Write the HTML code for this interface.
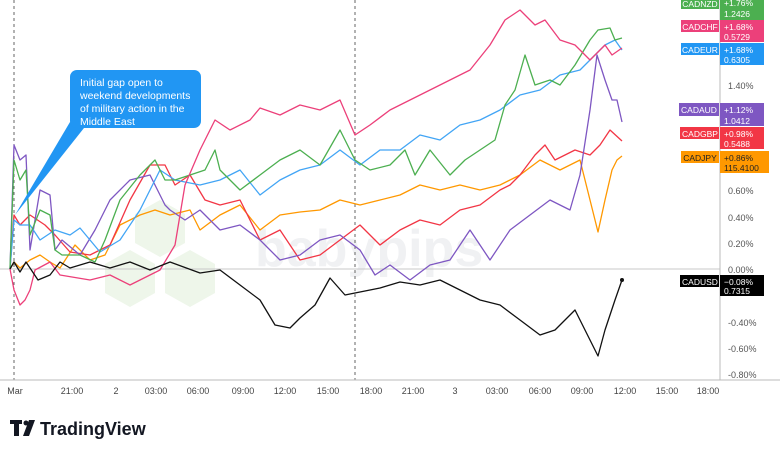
<!DOCTYPE html>
<html><head><style>
body{margin:0;background:#fff;width:780px;height:453px;overflow:hidden;font-family:"Liberation Sans",sans-serif}
</style></head><body>
<svg width="780" height="453" viewBox="0 0 780 453" xmlns="http://www.w3.org/2000/svg" font-family="Liberation Sans, sans-serif">
<rect width="780" height="453" fill="#fff"/>
<g fill="#eef6ea"><polygon points="160,200 185,214 185,243 160,257 135,243 135,214"/><polygon points="130,250 155,264 155,293 130,307 105,293 105,264"/><polygon points="190,250 215,264 215,293 190,307 165,293 165,264"/></g>
<text x="255" y="266" font-size="52" font-weight="bold" fill="#f0f1f3">babypips</text>
<line x1="0" y1="269" x2="720" y2="269" stroke="#c8c8c8" stroke-width="1"/>
<line x1="14" y1="0" x2="14" y2="380" stroke="#666" stroke-dasharray="3,3"/>
<line x1="355" y1="0" x2="355" y2="380" stroke="#666" stroke-dasharray="3,3"/>
<line x1="720" y1="0" x2="720" y2="380" stroke="#bbb"/>
<line x1="0" y1="380" x2="780" y2="380" stroke="#bbb"/>
<g fill="none" stroke-width="1.3" stroke-linejoin="round">
<polyline stroke="#ff9800" points="10,269 14,262 20,268 30,260 40,255 50,262 60,268 75,245 90,260 105,255 120,225 140,215 155,210 170,215 190,210 200,230 220,215 240,205 260,230 280,215 300,212 320,210 340,200 360,205 380,200 400,195 420,185 440,190 460,185 480,190 500,185 520,175 540,160 560,170 580,160 590,200 598,232 605,200 612,170 617,160 622,156"/>
<polyline stroke="#f23645" points="10,269 14,215 20,225 30,215 45,225 55,235 70,252 90,255 110,245 130,200 150,165 165,165 175,185 190,175 205,200 220,205 240,200 260,240 280,230 300,260 320,255 340,240 360,225 380,245 400,230 420,220 440,225 460,210 480,205 500,190 510,185 520,175 535,155 545,145 555,160 575,150 590,155 600,145 610,130 622,141"/>
<polyline stroke="#7e57c2" points="10,269 14,145 20,160 26,155 30,250 40,190 50,195 55,250 62,240 80,255 95,230 110,200 130,180 150,175 165,205 170,210 185,220 200,210 220,230 240,225 260,240 280,260 300,255 320,240 340,235 360,250 375,275 390,265 410,280 430,265 450,260 470,230 490,260 510,230 530,215 550,200 570,210 580,175 590,110 597,55 605,80 612,100 617,100 622,122"/>
<polyline stroke="#42a5f5" points="10,269 14,220 20,225 30,225 40,240 55,230 70,235 80,228 100,252 120,240 140,210 160,170 175,180 200,185 220,180 240,170 260,195 280,180 300,170 320,165 340,150 360,165 380,150 400,150 420,135 440,140 460,125 480,120 500,110 520,95 540,90 560,75 580,70 595,55 605,45 615,40 622,50"/>
<polyline stroke="#4caf50" points="10,269 14,160 20,180 26,170 30,235 40,210 50,215 55,250 62,255 80,255 95,262 105,240 120,200 140,175 155,160 165,180 175,180 190,175 205,170 215,150 220,170 240,190 260,175 280,160 300,150 320,165 340,130 355,160 370,170 390,165 405,150 415,175 430,150 450,175 465,160 480,150 495,140 505,105 515,90 525,55 535,85 550,80 560,85 575,65 590,40 598,30 610,28 615,40 622,38"/>
<polyline stroke="#ec407a" points="10,269 14,290 20,305 25,300 30,290 35,270 50,262 60,275 90,280 110,275 130,285 160,270 175,245 185,185 200,150 215,120 230,130 250,120 260,108 280,115 300,105 320,110 340,100 355,135 370,125 390,110 410,100 430,90 450,80 470,70 490,45 505,20 520,10 535,25 545,20 560,40 575,45 590,60 605,45 612,55 622,48"/>
<polyline stroke="#111" points="10,269 14,262 20,272 26,262 38,280 50,275 60,262 70,268 90,262 110,268 130,262 150,270 170,262 200,273 220,270 240,285 260,300 275,325 290,328 300,318 315,305 330,278 345,295 360,292 380,288 400,282 420,285 440,280 460,290 480,300 500,305 520,320 540,335 555,330 575,310 585,330 598,356 605,330 615,300 622,280"/>
</g>
<circle cx="622" cy="280" r="2" fill="#111"/>
<polygon points="70,122 84,128 15,215" fill="#2196f3"/>
<rect x="70" y="70" width="131" height="58" rx="7" fill="#2196f3"/>
<g fill="#fff" font-size="10.5"><text x="80" y="86">Initial gap open to</text><text x="80" y="99">weekend developments</text><text x="80" y="112">of military action in the</text><text x="80" y="125">Middle East</text></g>
<g font-size="9" fill="#555">
<text x="728" y="89">1.40%</text><text x="728" y="194">0.60%</text><text x="728" y="221">0.40%</text><text x="728" y="247">0.20%</text><text x="728" y="273">0.00%</text><text x="728" y="326">-0.40%</text><text x="728" y="352">-0.60%</text><text x="728" y="378">-0.80%</text>
</g>
<g font-size="9" fill="#444" text-anchor="middle">
<text x="15" y="394">Mar</text><text x="72" y="394">21:00</text><text x="116" y="394">2</text><text x="156" y="394">03:00</text><text x="198" y="394">06:00</text><text x="243" y="394">09:00</text><text x="285" y="394">12:00</text><text x="328" y="394">15:00</text><text x="371" y="394">18:00</text><text x="413" y="394">21:00</text><text x="455" y="394">3</text><text x="497" y="394">03:00</text><text x="540" y="394">06:00</text><text x="582" y="394">09:00</text><text x="625" y="394">12:00</text><text x="667" y="394">15:00</text><text x="708" y="394">18:00</text>
</g>
<g font-size="8.5">
<rect x="681" y="-3" width="38" height="12" fill="#4caf50"/><rect x="720" y="-3" width="44" height="23" fill="#4caf50"/>
<text x="700" y="7" fill="#fff" text-anchor="middle">CADNZD</text><text x="724" y="6" fill="#fff">+1.76%</text><text x="724" y="17" fill="#fff">1.2426</text>
<rect x="681" y="20" width="38" height="12" fill="#ec407a"/><rect x="720" y="20" width="44" height="22" fill="#ec407a"/>
<text x="700" y="30" fill="#fff" text-anchor="middle">CADCHF</text><text x="724" y="30" fill="#fff">+1.68%</text><text x="724" y="40" fill="#fff">0.5729</text>
<rect x="681" y="43" width="38" height="12" fill="#2196f3"/><rect x="720" y="43" width="44" height="22" fill="#2196f3"/>
<text x="700" y="53" fill="#fff" text-anchor="middle">CADEUR</text><text x="724" y="53" fill="#fff">+1.68%</text><text x="724" y="63" fill="#fff">0.6305</text>
<rect x="679" y="103" width="40" height="13" fill="#7e57c2"/><rect x="720" y="103" width="44" height="23" fill="#7e57c2"/>
<text x="699" y="113" fill="#fff" text-anchor="middle">CADAUD</text><text x="724" y="113" fill="#fff">+1.12%</text><text x="724" y="124" fill="#fff">1.0412</text>
<rect x="680" y="127" width="39" height="12" fill="#f23645"/><rect x="720" y="127" width="44" height="22" fill="#f23645"/>
<text x="700" y="137" fill="#fff" text-anchor="middle">CADGBP</text><text x="724" y="137" fill="#fff">+0.98%</text><text x="724" y="147" fill="#fff">0.5488</text>
<rect x="681" y="151" width="38" height="12" fill="#ff9800"/><rect x="720" y="151" width="49" height="22" fill="#ff9800"/>
<text x="700" y="161" fill="#222" text-anchor="middle">CADJPY</text><text x="724" y="161" fill="#222">+0.86%</text><text x="724" y="171" fill="#222">115.4100</text>
<rect x="680" y="275" width="39" height="12" fill="#000"/><rect x="720" y="275" width="44" height="21" fill="#000"/>
<text x="700" y="285" fill="#fff" text-anchor="middle">CADUSD</text><text x="724" y="285" fill="#fff">−0.08%</text><text x="724" y="294" fill="#fff">0.7315</text>
</g>
<g fill="#131722">
<rect x="10" y="420" width="12" height="4"/><rect x="14" y="420" width="5" height="16"/>
<circle cx="26" cy="423" r="2.5"/><polygon points="29,420 35,420 29,436 23,436"/>
<text x="40" y="435" font-size="18" font-weight="bold">TradingView</text>
</g>
</svg>
</body></html>
